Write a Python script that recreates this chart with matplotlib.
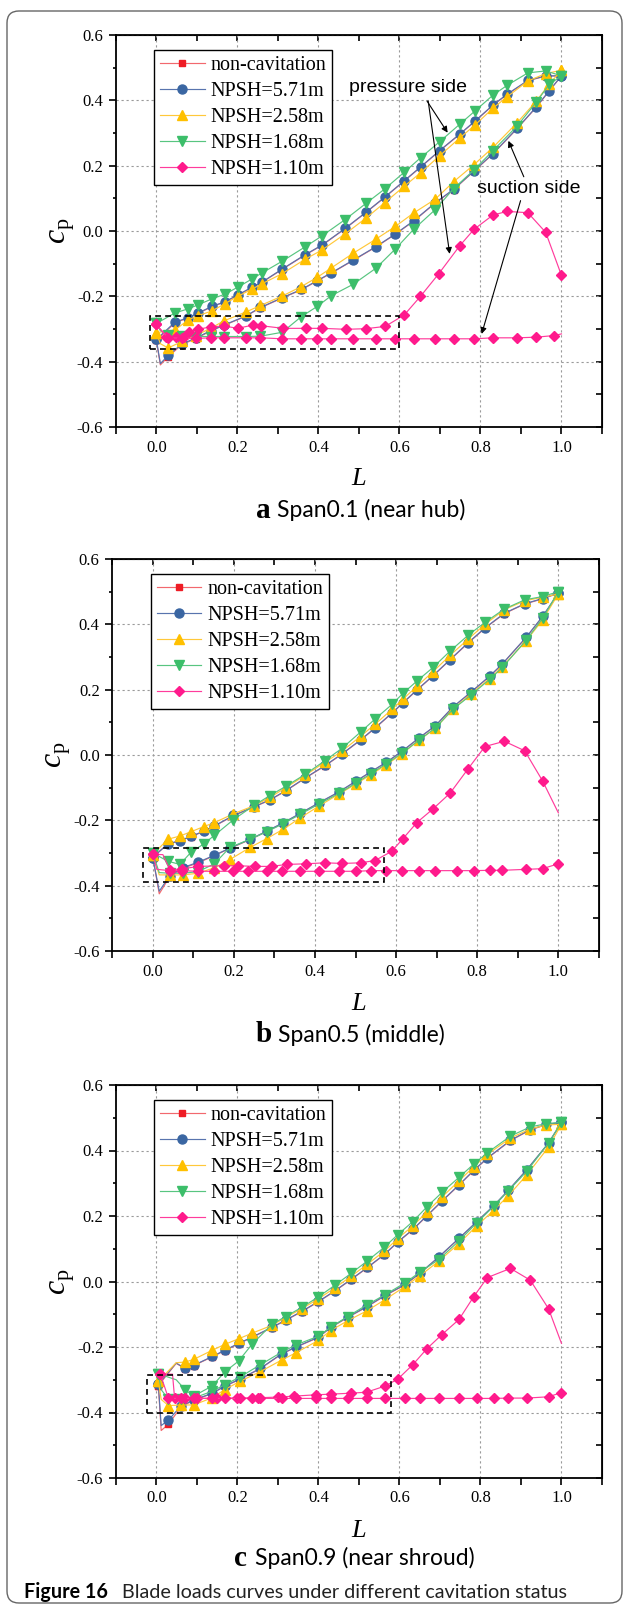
#!/usr/bin/env python3
"""Blade load curves (cp vs L) at three spans for several cavitation states."""

import matplotlib
matplotlib.use("Agg")
import matplotlib.pyplot as plt
from matplotlib.patches import Rectangle, FancyBboxPatch
from matplotlib.ticker import MultipleLocator

# ---------------------------------------------------------------- data
LABELS = ["non-cavitation", "NPSH=5.71m", "NPSH=2.58m", "NPSH=1.68m", "NPSH=1.10m"]

# (a) Span0.1 -- pressure side (upper branch) and suction side (lower branch)
A_PS_L = [0.0, 0.046, 0.079, 0.103, 0.137, 0.170, 0.201, 0.236, 0.260, 0.310, 0.368, 0.409, 0.466,
          0.518, 0.564, 0.612, 0.653, 0.699, 0.750, 0.787, 0.831, 0.866, 0.917, 0.961, 1.0]
A_SS_L = [0.0, 0.010, 0.029, 0.064, 0.097, 0.134, 0.167, 0.221, 0.257, 0.311, 0.358, 0.397, 0.432,
          0.486, 0.542, 0.590, 0.635, 0.688, 0.734, 0.784, 0.831, 0.891, 0.938, 0.970, 1.0]
A_NONCAV_PS = [-0.335, -0.281, -0.266, -0.252, -0.232, -0.217, -0.197, -0.173, -0.158, -0.118, -0.073, -0.044, 0.007,
               0.057, 0.103, 0.153, 0.196, 0.245, 0.297, 0.336, 0.385, 0.418, 0.460, 0.474, 0.475]
A_NONCAV_SS = [-0.335, -0.410, -0.385, -0.347, -0.330, -0.306, -0.289, -0.261, -0.235, -0.205, -0.180, -0.153, -0.129,
               -0.090, -0.049, -0.010, 0.030, 0.085, 0.127, 0.183, 0.236, 0.314, 0.379, 0.429, 0.475]
A_571_PS = [-0.332, -0.279, -0.265, -0.251, -0.231, -0.216, -0.196, -0.172, -0.157, -0.117, -0.072, -0.043, 0.008,
            0.058, 0.104, 0.154, 0.197, 0.246, 0.298, 0.337, 0.386, 0.419, 0.461, 0.475, 0.475]
A_571_SS = [-0.332, -0.406, -0.381, -0.345, -0.328, -0.305, -0.288, -0.260, -0.234, -0.204, -0.179, -0.152, -0.128,
            -0.089, -0.048, -0.009, 0.031, 0.086, 0.128, 0.184, 0.237, 0.315, 0.380, 0.430, 0.475]
A_258_PS = [-0.311, -0.303, -0.272, -0.259, -0.245, -0.222, -0.200, -0.178, -0.162, -0.131, -0.086, -0.058, -0.009,
            0.040, 0.087, 0.137, 0.179, 0.230, 0.286, 0.325, 0.376, 0.411, 0.459, 0.482, 0.492]
A_258_SS = [-0.311, -0.345, -0.358, -0.338, -0.320, -0.298, -0.275, -0.248, -0.228, -0.199, -0.170, -0.142, -0.113,
            -0.068, -0.025, 0.014, 0.055, 0.097, 0.151, 0.203, 0.256, 0.332, 0.398, 0.450, 0.492]
A_168_PS = [-0.283, -0.251, -0.238, -0.226, -0.208, -0.193, -0.172, -0.147, -0.129, -0.093, -0.048, -0.015, 0.035,
            0.085, 0.129, 0.180, 0.225, 0.273, 0.328, 0.368, 0.416, 0.446, 0.484, 0.490, 0.475]
A_168_SS = [-0.283, -0.305, -0.318, -0.322, -0.323, -0.323, -0.323, -0.323, -0.322, -0.310, -0.262, -0.231, -0.198,
            -0.163, -0.114, -0.055, 0.005, 0.065, 0.130, 0.187, 0.246, 0.322, 0.395, 0.449, 0.475]
A_110_PS_L = [0.0, 0.025, 0.049, 0.068, 0.080, 0.103, 0.136, 0.168, 0.201, 0.238, 0.259, 0.313, 0.369, 0.410,
              0.468, 0.518, 0.565, 0.612, 0.652, 0.697, 0.749, 0.784, 0.831, 0.866, 0.917, 0.961, 1.0]
A_110_PS = [-0.286, -0.323, -0.325, -0.323, -0.308, -0.301, -0.293, -0.291, -0.298, -0.288, -0.290, -0.298, -0.298,
            -0.298, -0.301, -0.299, -0.292, -0.257, -0.200, -0.131, -0.045, 0.005, 0.049, 0.060, 0.056, -0.004, -0.136]
A_110_SS_L = [0.0, 0.029, 0.064, 0.097, 0.134, 0.167, 0.221, 0.257, 0.311, 0.358, 0.397, 0.432, 0.486, 0.542,
              0.590, 0.635, 0.688, 0.734, 0.784, 0.831, 0.891, 0.938, 0.982, 1.0]
A_110_SS = [-0.286, -0.327, -0.328, -0.329, -0.327, -0.327, -0.327, -0.327, -0.330, -0.330, -0.330, -0.330, -0.330,
            -0.330, -0.330, -0.330, -0.330, -0.330, -0.330, -0.327, -0.327, -0.325, -0.320, -0.315]

# (b) Span0.5
B_PS_L = [0.0, 0.037, 0.067, 0.094, 0.126, 0.152, 0.199, 0.250, 0.289, 0.328, 0.376, 0.425, 0.467,
          0.513, 0.548, 0.590, 0.617, 0.651, 0.691, 0.733, 0.777, 0.819, 0.867, 0.917, 0.961, 1.0]
B_SS_L = [0.0, 0.016, 0.042, 0.074, 0.112, 0.152, 0.190, 0.240, 0.281, 0.322, 0.363, 0.410, 0.460,
          0.502, 0.538, 0.576, 0.614, 0.656, 0.697, 0.740, 0.784, 0.831, 0.862, 0.921, 0.961, 1.0]
B_NONCAV_PS = [-0.312, -0.273, -0.263, -0.250, -0.234, -0.218, -0.186, -0.159, -0.138, -0.110, -0.071, -0.033, 0.003,
               0.046, 0.082, 0.128, 0.159, 0.198, 0.242, 0.291, 0.342, 0.388, 0.433, 0.462, 0.478, 0.495]
B_NONCAV_SS = [-0.312, -0.425, -0.372, -0.347, -0.330, -0.308, -0.286, -0.259, -0.234, -0.208, -0.180, -0.147, -0.113,
               -0.080, -0.052, -0.023, 0.010, 0.051, 0.089, 0.146, 0.191, 0.241, 0.278, 0.360, 0.423, 0.495]
B_571_PS = [-0.314, -0.272, -0.262, -0.249, -0.233, -0.217, -0.185, -0.158, -0.137, -0.109, -0.070, -0.032, 0.004,
            0.047, 0.083, 0.129, 0.160, 0.199, 0.243, 0.292, 0.343, 0.389, 0.434, 0.463, 0.479, 0.496]
B_571_SS = [-0.314, -0.417, -0.369, -0.345, -0.328, -0.307, -0.285, -0.258, -0.233, -0.207, -0.179, -0.146, -0.112,
            -0.079, -0.051, -0.022, 0.011, 0.052, 0.090, 0.147, 0.192, 0.242, 0.279, 0.361, 0.424, 0.496]
B_258_PS = [-0.305, -0.258, -0.248, -0.235, -0.219, -0.207, -0.180, -0.155, -0.130, -0.100, -0.062, -0.022, 0.012,
            0.058, 0.094, 0.140, 0.171, 0.210, 0.255, 0.305, 0.354, 0.400, 0.445, 0.472, 0.483, 0.493]
B_258_SS = [-0.305, -0.367, -0.367, -0.367, -0.362, -0.345, -0.320, -0.283, -0.256, -0.227, -0.193, -0.156, -0.119,
            -0.088, -0.060, -0.030, 0.003, 0.045, 0.082, 0.140, 0.186, 0.234, 0.270, 0.350, 0.413, 0.493]
B_168_PS = [-0.300, -0.325, -0.335, -0.298, -0.272, -0.246, -0.198, -0.154, -0.124, -0.096, -0.059, -0.017, 0.021,
            0.071, 0.110, 0.155, 0.189, 0.226, 0.268, 0.318, 0.366, 0.406, 0.447, 0.475, 0.485, 0.500]
B_168_SS = [-0.300, -0.360, -0.362, -0.362, -0.357, -0.333, -0.283, -0.258, -0.235, -0.210, -0.182, -0.150, -0.117,
            -0.085, -0.057, -0.027, 0.005, 0.045, 0.083, 0.140, 0.183, 0.232, 0.268, 0.352, 0.418, 0.500]
B_110_PS_L = [0.0, 0.025, 0.042, 0.072, 0.112, 0.175, 0.209, 0.253, 0.293, 0.330, 0.379, 0.425, 0.467,
              0.513, 0.548, 0.589, 0.617, 0.651, 0.691, 0.733, 0.777, 0.819, 0.867, 0.917, 0.961, 1.0]
B_110_PS = [-0.304, -0.305, -0.351, -0.349, -0.341, -0.339, -0.339, -0.341, -0.341, -0.335, -0.333, -0.330, -0.332,
            -0.330, -0.323, -0.295, -0.256, -0.207, -0.165, -0.117, -0.043, 0.026, 0.042, 0.013, -0.079, -0.177]
B_110_SS_L = [0.0, 0.010, 0.042, 0.072, 0.112, 0.152, 0.199, 0.236, 0.281, 0.318, 0.363, 0.410, 0.460,
              0.502, 0.538, 0.576, 0.614, 0.656, 0.697, 0.751, 0.791, 0.831, 0.862, 0.921, 0.961, 1.0]
B_110_SS = [-0.304, -0.350, -0.354, -0.354, -0.356, -0.356, -0.356, -0.356, -0.356, -0.356, -0.356, -0.356, -0.356,
            -0.356, -0.354, -0.354, -0.354, -0.354, -0.354, -0.354, -0.354, -0.353, -0.353, -0.350, -0.348, -0.333]

# (c) Span0.9
C_PS_L = [0.005, 0.049, 0.071, 0.092, 0.138, 0.169, 0.203, 0.236, 0.285, 0.319, 0.359, 0.400, 0.440, 0.481,
          0.521, 0.563, 0.596, 0.633, 0.668, 0.705, 0.747, 0.783, 0.817, 0.874, 0.923, 0.963, 1.0]
C_SS_L = [0.005, 0.012, 0.030, 0.061, 0.092, 0.138, 0.169, 0.206, 0.257, 0.309, 0.344, 0.400, 0.430,
          0.472, 0.519, 0.565, 0.614, 0.651, 0.697, 0.747, 0.791, 0.833, 0.869, 0.914, 0.968, 1.0]
C_NONCAV_PS = [-0.318, -0.250, -0.266, -0.257, -0.230, -0.211, -0.190, -0.171, -0.141, -0.119, -0.092, -0.062, -0.030,
               0.006, 0.042, 0.082, 0.120, 0.158, 0.200, 0.245, 0.294, 0.338, 0.376, 0.430, 0.463, 0.479, 0.485]
C_NONCAV_SS = [-0.318, -0.455, -0.436, -0.383, -0.363, -0.342, -0.320, -0.299, -0.266, -0.222, -0.201, -0.171, -0.141,
               -0.110, -0.078, -0.043, -0.010, 0.025, 0.074, 0.131, 0.182, 0.231, 0.278, 0.340, 0.422, 0.485]
C_571_PS = [-0.314, -0.249, -0.265, -0.256, -0.229, -0.210, -0.189, -0.170, -0.140, -0.118, -0.091, -0.061, -0.029,
            0.007, 0.043, 0.083, 0.121, 0.159, 0.201, 0.246, 0.295, 0.339, 0.377, 0.431, 0.464, 0.480, 0.486]
C_571_SS = [-0.314, -0.440, -0.423, -0.380, -0.362, -0.341, -0.319, -0.298, -0.265, -0.221, -0.200, -0.170, -0.140,
            -0.109, -0.077, -0.042, -0.009, 0.026, 0.075, 0.132, 0.183, 0.232, 0.279, 0.341, 0.423, 0.486]
C_258_PS = [-0.305, -0.248, -0.246, -0.238, -0.210, -0.192, -0.175, -0.158, -0.134, -0.110, -0.083, -0.053, -0.020,
            0.016, 0.053, 0.093, 0.131, 0.170, 0.212, 0.258, 0.307, 0.350, 0.388, 0.438, 0.466, 0.478, 0.480]
C_258_SS = [-0.305, -0.360, -0.379, -0.377, -0.377, -0.355, -0.330, -0.305, -0.275, -0.240, -0.218, -0.180, -0.150,
            -0.120, -0.090, -0.055, -0.015, 0.018, 0.062, 0.116, 0.170, 0.218, 0.262, 0.325, 0.410, 0.480]
C_168_PS = [-0.282, -0.300, -0.330, -0.350, -0.319, -0.276, -0.243, -0.192, -0.131, -0.107, -0.079, -0.047, -0.012,
            0.025, 0.063, 0.105, 0.143, 0.183, 0.228, 0.272, 0.318, 0.358, 0.393, 0.444, 0.472, 0.482, 0.486]
C_168_SS = [-0.282, -0.330, -0.360, -0.360, -0.356, -0.335, -0.315, -0.292, -0.254, -0.216, -0.194, -0.167, -0.140,
            -0.107, -0.072, -0.040, -0.004, 0.029, 0.067, 0.124, 0.179, 0.230, 0.277, 0.336, 0.423, 0.486]
C_110_PS_L = [0.010, 0.040, 0.045, 0.070, 0.100, 0.150, 0.200, 0.250, 0.300, 0.340, 0.393, 0.430, 0.481,
              0.519, 0.565, 0.596, 0.633, 0.668, 0.705, 0.747, 0.783, 0.817, 0.874, 0.923, 0.968, 1.0]
C_110_PS = [-0.283, -0.283, -0.355, -0.355, -0.357, -0.356, -0.356, -0.355, -0.353, -0.350, -0.346, -0.344, -0.341,
            -0.338, -0.319, -0.298, -0.254, -0.205, -0.162, -0.116, -0.047, 0.012, 0.040, 0.004, -0.083, -0.189]
C_110_SS_L = [0.010, 0.030, 0.061, 0.092, 0.138, 0.169, 0.206, 0.236, 0.257, 0.309, 0.344, 0.393, 0.430,
              0.472, 0.519, 0.565, 0.614, 0.651, 0.697, 0.747, 0.791, 0.833, 0.869, 0.914, 0.968, 1.0]
C_110_SS = [-0.283, -0.357, -0.357, -0.357, -0.357, -0.357, -0.357, -0.357, -0.357, -0.357, -0.357, -0.357, -0.357,
            -0.357, -0.357, -0.357, -0.357, -0.357, -0.357, -0.357, -0.357, -0.357, -0.356, -0.356, -0.352, -0.339]

# ---------------------------------------------------------------- style
FIG_W, FIG_H = 626, 1607
SERIF = ["Liberation Serif", "DejaVu Serif"]
SANS = ["Lato", "DejaVu Sans"]
MARKERS = ["s", "o", "^", "v", "D"]
MARKER_SIZES = [5.0, 6.5, 7.0, 7.0, 5.0]
MARKER_COLORS = ["#EE1C25", "#3A66A2", "#FFC000", "#3CBE6A", "#FF1A8C"]
LINE_COLORS = ["#F2686E", "#5874AE", "#FFC83A", "#58C580", "#FF3C9C"]


def px_axes(fig, left, top, right, bottom):
    """Add axes from a pixel box (origin at top-left of the figure)."""
    return fig.add_axes([left / FIG_W, 1 - bottom / FIG_H, (right - left) / FIG_W, (bottom - top) / FIG_H])


def loop(ps_l, ps_cp, ss_l, ss_cp, ps_skip=(), ss_skip=()):
    """Join pressure side (0->1) and suction side (1->0) into one closed curve."""
    x = list(ps_l) + list(ss_l)[::-1]
    y = list(ps_cp) + list(ss_cp)[::-1]
    n_ps, n_ss = len(ps_l), len(ss_l)
    marks = [i for i in range(n_ps) if i not in ps_skip]
    marks += [n_ps + (n_ss - 1 - j) for j in range(n_ss) if j not in ss_skip]
    return x, y, sorted(marks)


def style_axes(ax):
    ax.set_xlim(-0.1, 1.1)
    ax.set_ylim(-0.6, 0.6)
    ax.xaxis.set_major_locator(MultipleLocator(0.2))
    ax.xaxis.set_minor_locator(MultipleLocator(0.1))
    ax.yaxis.set_major_locator(MultipleLocator(0.2))
    ax.yaxis.set_minor_locator(MultipleLocator(0.1))
    ax.xaxis.set_major_formatter(lambda v, p: f"{v:.1f}")
    ax.yaxis.set_major_formatter(lambda v, p: f"{v:.1f}".replace("-0.0", "0.0"))
    ax.grid(True, which="major", ls=(0, (2, 2.5)), color="#9a9a9a", lw=0.8)
    ax.set_axisbelow(True)
    for s in ax.spines.values():
        s.set_linewidth(1.3)
    ax.tick_params(axis="x", which="both", direction="out", length=5, width=1.2, labelsize=12, pad=4)
    ax.tick_params(axis="y", which="major", direction="out", length=5, width=1.2, labelsize=12, pad=4)
    ax.tick_params(axis="y", which="minor", direction="out", length=2.5, width=1.2)
    top = ax.secondary_xaxis("top")
    top.xaxis.set_major_locator(MultipleLocator(0.2))
    top.xaxis.set_minor_locator(MultipleLocator(0.1))
    top.tick_params(which="both", direction="in", length=4, width=1.2, labeltop=False)
    right = ax.secondary_yaxis("right")
    right.yaxis.set_major_locator(MultipleLocator(0.2))
    right.yaxis.set_minor_locator(MultipleLocator(0.1))
    right.tick_params(which="both", direction="in", length=4, width=1.2, labelright=False)
    ax.text(-0.11, 0.5, r"$c_{\mathrm{p}}$", transform=ax.transAxes, rotation=90,
            ha="center", va="center", fontsize=23)


def draw_panel(ax, ps_l, ss_l, side_pairs, pink, ps_skip, ss_skip, pink_skips, box):
    for k, (ps_cp, ss_cp) in enumerate(side_pairs):
        x, y, marks = loop(ps_l, ps_cp, ss_l, ss_cp, ps_skip, ss_skip)
        ax.plot(x, y, color=LINE_COLORS[k], lw=0.85, marker=MARKERS[k], ms=MARKER_SIZES[k],
                mfc=MARKER_COLORS[k], mec=MARKER_COLORS[k], markevery=marks, label=LABELS[k])
    pl, pc, sl, sc = pink
    for j, (lx, ly) in enumerate([(pl, pc), (sl, sc)]):
        skip = [s if s >= 0 else len(lx) + s for s in pink_skips[j]]
        marks = [i for i in range(len(lx)) if i not in skip]
        ax.plot(lx, ly, color=LINE_COLORS[4], lw=0.85, marker=MARKERS[4], ms=MARKER_SIZES[4],
                mfc=MARKER_COLORS[4], mec=MARKER_COLORS[4], markevery=marks,
                label=LABELS[4] if j == 0 else None)
    x0, x1, y0, y1 = box
    ax.add_patch(Rectangle((x0, y0), x1 - x0, y1 - y0, fill=False, ec="black", lw=1.2,
                           ls=(0, (3.5, 2.5)), zorder=5))
    leg = ax.legend(loc="upper left", bbox_to_anchor=(0.079, 0.962), borderaxespad=0,
                    prop={"family": SERIF, "size": 14.5}, frameon=True, fancybox=False,
                    edgecolor="black", framealpha=1, handlelength=2.2, handletextpad=0.3,
                    labelspacing=0.34, borderpad=0.3, numpoints=1)
    leg.get_frame().set_linewidth(1.0)


def caption(fig, letter, text, x_letter, x_text, y):
    fig.text(x_letter / FIG_W, 1 - y / FIG_H, letter, family=SERIF, weight="bold", fontsize=21,
             ha="left", va="center")
    fig.text(x_text / FIG_W, 1 - y / FIG_H, text, family=SANS, fontsize=16.5, ha="left", va="center")


def main() -> None:
    plt.rcParams["font.family"] = SERIF
    plt.rcParams["mathtext.fontset"] = "custom"
    plt.rcParams["mathtext.rm"] = "Liberation Serif"
    plt.rcParams["mathtext.it"] = "Liberation Serif:italic"

    fig = plt.figure(figsize=(FIG_W / 100, FIG_H / 100), dpi=100)
    fig.patches.append(FancyBboxPatch((0.07, 0.04), 6.15, 15.92, boxstyle="round,pad=0,rounding_size=0.12",
                                      transform=fig.dpi_scale_trans, fill=False, ec="#666666", lw=1.0))

    panels = [
        (px_axes(fig, 115.8, 35, 602, 427), A_PS_L, A_SS_L,
         [(A_NONCAV_PS, A_NONCAV_SS), (A_571_PS, A_571_SS), (A_258_PS, A_258_SS), (A_168_PS, A_168_SS)],
         (A_110_PS_L, A_110_PS, A_110_SS_L, A_110_SS), (), (1,), ((), (-1,)), (-0.015, 0.599, -0.361, -0.259)),
        (px_axes(fig, 112.2, 559, 598.9, 951), B_PS_L, B_SS_L,
         [(B_NONCAV_PS, B_NONCAV_SS), (B_571_PS, B_571_SS), (B_258_PS, B_258_SS), (B_168_PS, B_168_SS)],
         (B_110_PS_L, B_110_PS, B_110_SS_L, B_110_SS), (), (1,), ((1, -1), (1,)), (-0.025, 0.570, -0.388, -0.285)),
        (px_axes(fig, 115.8, 1085, 602, 1478), C_PS_L, C_SS_L,
         [(C_NONCAV_PS, C_NONCAV_SS), (C_571_PS, C_571_SS), (C_258_PS, C_258_SS), (C_168_PS, C_168_SS)],
         (C_110_PS_L, C_110_PS, C_110_SS_L, C_110_SS), (1,), (1,), ((1, -1), ()), (-0.024, 0.580, -0.403, -0.287)),
    ]
    axes = []
    for ax, ps_l, ss_l, pairs, pink, ps_skip, ss_skip, pink_skips, box in panels:
        style_axes(ax)
        draw_panel(ax, ps_l, ss_l, pairs, pink, ps_skip, ss_skip, pink_skips, box)
        axes.append(ax)

    # x-axis titles
    for y in (479, 1004, 1531):
        fig.text(359 / FIG_W, 1 - y / FIG_H, "L", family=SERIF, style="italic", fontsize=19,
                 ha="center", va="center")

    # pressure / suction side labels in (a)
    ax = axes[0]
    sans = ["Liberation Sans", "DejaVu Sans"]
    ax.text(0.62, 0.44, "pressure side", family=sans, fontsize=14, ha="center", va="center")
    ax.text(0.918, 0.13, "suction side", family=sans, fontsize=14, ha="center", va="center")
    arrow = dict(arrowstyle="-|>", color="black", lw=0.8, mutation_scale=9, shrinkA=0, shrinkB=0)
    ax.annotate("", xy=(0.719, 0.301), xytext=(0.668, 0.398), arrowprops=arrow)
    ax.annotate("", xy=(0.724, -0.070), xytext=(0.671, 0.398), arrowprops=arrow)
    ax.annotate("", xy=(0.869, 0.276), xytext=(0.907, 0.166), arrowprops=arrow)
    ax.annotate("", xy=(0.803, -0.315), xytext=(0.899, 0.093), arrowprops=arrow)

    caption(fig, "a", "Span0.1 (near hub)", 256, 277, 510)
    caption(fig, "b", "Span0.5 (middle)", 256, 278, 1035)
    caption(fig, "c", "Span0.9 (near shroud)", 234, 255, 1558)

    fig.text(24 / FIG_W, 1 - 1592 / FIG_H, "Figure 16", family=SANS, weight="bold", fontsize=14.2,
             ha="left", va="center")
    fig.text(122 / FIG_W, 1 - 1592 / FIG_H, "Blade loads curves under different cavitation status",
             family=SANS, fontsize=14.2, ha="left", va="center", color="#222222")

    fig.savefig("out.png", dpi=100)
    print("Saved: out.png")


if __name__ == "__main__":
    main()
